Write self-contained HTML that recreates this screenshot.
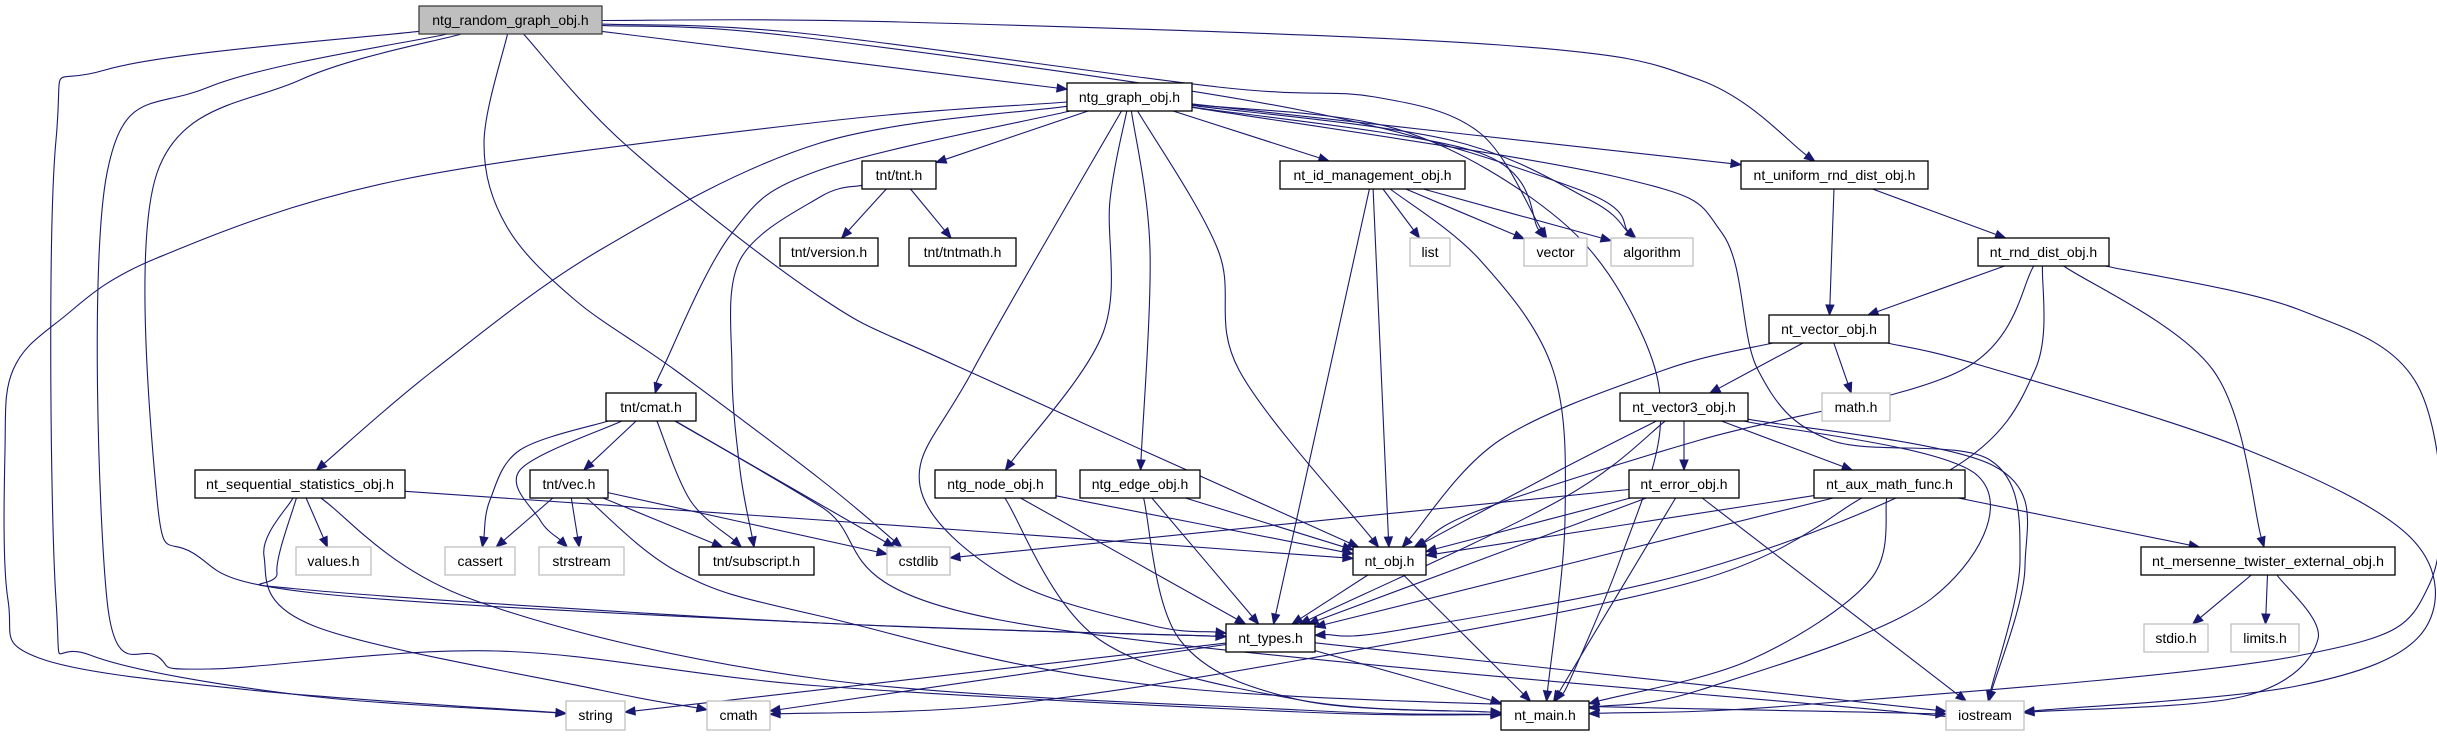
<!DOCTYPE html>
<html><head><meta charset="utf-8">
<style>
html,body{margin:0;padding:0;background:#fff;}
svg{display:block;}
text{font-family:"Liberation Sans",sans-serif;font-size:14px;fill:#000;}
</style></head>
<body>
<svg id="g" width="2437" height="736" viewBox="0 0 2437 736" xmlns="http://www.w3.org/2000/svg">
<rect width="2437" height="736" fill="#ffffff"/>
<g id="edges"></g>
<g id="nodes">
<rect x="419" y="6" width="183" height="28" fill="#bfbfbf" stroke="#404040" stroke-width="1.3"/><text x="510.5" y="25" text-anchor="middle">ntg_random_graph_obj.h</text>
<rect x="1067" y="83" width="125" height="28" fill="#fff" stroke="#000" stroke-width="1.3"/><text x="1129.5" y="102" text-anchor="middle">ntg_graph_obj.h</text>
<rect x="862" y="161" width="74" height="28" fill="#fff" stroke="#000" stroke-width="1.3"/><text x="899" y="180" text-anchor="middle">tnt/tnt.h</text>
<rect x="780" y="238" width="98" height="28" fill="#fff" stroke="#000" stroke-width="1.3"/><text x="829" y="257" text-anchor="middle">tnt/version.h</text>
<rect x="909" y="238" width="107" height="28" fill="#fff" stroke="#000" stroke-width="1.3"/><text x="962.5" y="257" text-anchor="middle">tnt/tntmath.h</text>
<rect x="1280" y="161" width="185" height="28" fill="#fff" stroke="#000" stroke-width="1.3"/><text x="1372.5" y="180" text-anchor="middle">nt_id_management_obj.h</text>
<rect x="1410" y="238" width="40" height="28" fill="#fff" stroke="#bfbfbf" stroke-width="1.3"/><text x="1430" y="257" text-anchor="middle">list</text>
<rect x="1524" y="238" width="63" height="28" fill="#fff" stroke="#bfbfbf" stroke-width="1.3"/><text x="1555.5" y="257" text-anchor="middle">vector</text>
<rect x="1611" y="238" width="82" height="28" fill="#fff" stroke="#bfbfbf" stroke-width="1.3"/><text x="1652" y="257" text-anchor="middle">algorithm</text>
<rect x="1741" y="161" width="187" height="28" fill="#fff" stroke="#000" stroke-width="1.3"/><text x="1834.5" y="180" text-anchor="middle">nt_uniform_rnd_dist_obj.h</text>
<rect x="1978" y="238" width="131" height="28" fill="#fff" stroke="#000" stroke-width="1.3"/><text x="2043.5" y="257" text-anchor="middle">nt_rnd_dist_obj.h</text>
<rect x="1769" y="315" width="120" height="28" fill="#fff" stroke="#000" stroke-width="1.3"/><text x="1829" y="334" text-anchor="middle">nt_vector_obj.h</text>
<rect x="606" y="393" width="90" height="28" fill="#fff" stroke="#000" stroke-width="1.3"/><text x="651" y="412" text-anchor="middle">tnt/cmat.h</text>
<rect x="1620" y="393" width="128" height="28" fill="#fff" stroke="#000" stroke-width="1.3"/><text x="1684" y="412" text-anchor="middle">nt_vector3_obj.h</text>
<rect x="1822" y="393" width="68" height="28" fill="#fff" stroke="#bfbfbf" stroke-width="1.3"/><text x="1856" y="412" text-anchor="middle">math.h</text>
<rect x="195" y="470" width="210" height="28" fill="#fff" stroke="#000" stroke-width="1.3"/><text x="300" y="489" text-anchor="middle" textLength="188" lengthAdjust="spacingAndGlyphs">nt_sequential_statistics_obj.h</text>
<rect x="530" y="470" width="78" height="28" fill="#fff" stroke="#000" stroke-width="1.3"/><text x="569" y="489" text-anchor="middle">tnt/vec.h</text>
<rect x="935" y="470" width="121" height="28" fill="#fff" stroke="#000" stroke-width="1.3"/><text x="995.5" y="489" text-anchor="middle">ntg_node_obj.h</text>
<rect x="1080" y="470" width="120" height="28" fill="#fff" stroke="#000" stroke-width="1.3"/><text x="1140" y="489" text-anchor="middle">ntg_edge_obj.h</text>
<rect x="1629" y="470" width="110" height="28" fill="#fff" stroke="#000" stroke-width="1.3"/><text x="1684" y="489" text-anchor="middle">nt_error_obj.h</text>
<rect x="1814" y="470" width="151" height="28" fill="#fff" stroke="#000" stroke-width="1.3"/><text x="1889.5" y="489" text-anchor="middle">nt_aux_math_func.h</text>
<rect x="296" y="547" width="75" height="28" fill="#fff" stroke="#bfbfbf" stroke-width="1.3"/><text x="333.5" y="566" text-anchor="middle">values.h</text>
<rect x="445" y="547" width="70" height="28" fill="#fff" stroke="#bfbfbf" stroke-width="1.3"/><text x="480" y="566" text-anchor="middle">cassert</text>
<rect x="539" y="547" width="85" height="28" fill="#fff" stroke="#bfbfbf" stroke-width="1.3"/><text x="581.5" y="566" text-anchor="middle">strstream</text>
<rect x="699" y="547" width="115" height="28" fill="#fff" stroke="#000" stroke-width="1.3"/><text x="756.5" y="566" text-anchor="middle">tnt/subscript.h</text>
<rect x="887" y="547" width="63" height="28" fill="#fff" stroke="#bfbfbf" stroke-width="1.3"/><text x="918.5" y="566" text-anchor="middle">cstdlib</text>
<rect x="1353" y="547" width="73" height="28" fill="#fff" stroke="#000" stroke-width="1.3"/><text x="1389.5" y="566" text-anchor="middle">nt_obj.h</text>
<rect x="2141" y="547" width="254" height="28" fill="#fff" stroke="#000" stroke-width="1.3"/><text x="2268" y="566" text-anchor="middle" textLength="232" lengthAdjust="spacingAndGlyphs">nt_mersenne_twister_external_obj.h</text>
<rect x="1226" y="624" width="89" height="28" fill="#fff" stroke="#000" stroke-width="1.3"/><text x="1270.5" y="643" text-anchor="middle">nt_types.h</text>
<rect x="2144" y="624" width="64" height="28" fill="#fff" stroke="#bfbfbf" stroke-width="1.3"/><text x="2176" y="643" text-anchor="middle">stdio.h</text>
<rect x="2231" y="624" width="68" height="28" fill="#fff" stroke="#bfbfbf" stroke-width="1.3"/><text x="2265" y="643" text-anchor="middle">limits.h</text>
<rect x="566" y="701" width="59" height="29" fill="#fff" stroke="#bfbfbf" stroke-width="1.3"/><text x="595.5" y="720" text-anchor="middle">string</text>
<rect x="707" y="701" width="63" height="29" fill="#fff" stroke="#bfbfbf" stroke-width="1.3"/><text x="738.5" y="720" text-anchor="middle">cmath</text>
<rect x="1501" y="701" width="88" height="29" fill="#fff" stroke="#000" stroke-width="1.3"/><text x="1545" y="720" text-anchor="middle">nt_main.h</text>
<rect x="1946" y="701" width="78" height="29" fill="#fff" stroke="#bfbfbf" stroke-width="1.3"/><text x="1985" y="720" text-anchor="middle">iostream</text>
</g>
</svg>
<script>
var N={
R:[419,6,183,28],G:[1067,83,125,28],TNT:[862,161,74,28],VER:[780,238,98,28],TM:[909,238,107,28],
ID:[1280,161,185,28],LIST:[1410,238,40,28],VEC:[1524,238,63,28],ALG:[1611,238,82,28],U:[1741,161,187,28],
RD:[1978,238,131,28],V:[1769,315,120,28],CM:[606,393,90,28],V3:[1620,393,128,28],MATH:[1822,393,68,28],
SS:[195,470,210,28],TV:[530,470,78,28],NODE:[935,470,121,28],EDGE:[1080,470,120,28],ERR:[1629,470,110,28],
AUX:[1814,470,151,28],VAL:[296,547,75,28],CAS:[445,547,70,28],STR:[539,547,85,28],SUB:[699,547,115,28],
CSTD:[887,547,63,28],OBJ:[1353,547,73,28],MT:[2141,547,254,28],TYP:[1226,624,89,28],STDIO:[2144,624,64,28],
LIM:[2231,624,68,28],STRING:[566,701,59,29],CMATH:[707,701,63,29],MAIN:[1501,701,88,29],IOS:[1946,701,78,29]};
var E=[
['R','G',[]],
['R','U',[[900,22],[1500,45],[1700,80]]],
['R','VEC',[[800,33],[1218,87],[1375,97],[1480,133]]],
['R','ALG',[[800,37],[1300,110],[1580,190]]],
['R','OBJ',[[628,147],[820,297],[957,366]]],
['R','CSTD',[[484,143],[507,227],[575,300],[675,370],[820,479]]],
['R','STRING',[[105,70],[56,140],[56,600],[90,655],[300,695]]],
['R','MAIN',[[209,87],[107,173],[107,600],[157,656],[209,669],[497,651],[820,686],[1300,712]]],
['R','TYP',[[300,80],[157,173],[157,499],[193,553],[314,593],[820,623]]],
['G','STRING',[[820,122],[400,180],[157,258],[60,320],[13,370],[5,450],[8,600],[39,658],[250,690]]],
['G','TNT',[]],['G','ID',[]],['G','U',[]],
['G','VEC',[[1480,153]]],
['G','ALG',[[1450,140],[1590,200]]],
['G','CM',[[820,170],[732,233],[662,370]]],
['G','SS',[[820,143],[600,250],[434,370]]],
['TNT','SUB',[[820,197],[740,260],[732,370],[740,470]]],
['TNT','VER',[]],['TNT','TM',[]],
['G','NODE',[[1110,200],[1103,333]]],
['G','EDGE',[[1150,250]]],
['G','TYP',[[973,370],[920,486],[1009,579],[1150,625]]],
['G','OBJ',[[1218,250],[1239,370]]],
['G','MAIN',[[1400,130],[1560,220],[1640,330],[1660,430],[1620,560],[1570,680]]],
['G','IOS',[[1617,177],[1722,233],[1758,370],[1830,440],[1990,460],[2020,560]]],
['ID','LIST',[]],['ID','VEC',[]],['ID','ALG',[]],
['ID','OBJ',[]],['ID','TYP',[]],
['ID','MAIN',[[1480,260],[1553,370],[1565,520]]],
['U','V',[]],['U','RD',[]],
['RD','V',[]],
['RD','OBJ',[[1962,370],[1700,440],[1480,510]]],
['RD','TYP',[[2035,370],[1950,470],[1700,570],[1400,630]]],
['RD','MT',[[2213,370]]],
['RD','MAIN',[[2300,310],[2420,390],[2430,583],[2297,656],[1800,705]]],
['V','IOS',[[1983,366],[2245,449],[2412,539],[2422,633],[2297,686]]],
['MT','IOS',[[2318,639],[2245,696]]],
['MT','STDIO',[]],['MT','LIM',[]],
['V','V3',[]],['V','MATH',[]],
['V','OBJ',[[1664,370],[1500,440]]],
['V3','ERR',[]],['V3','AUX',[]],['V3','OBJ',[[1560,470]]],['V3','TYP',[[1560,500]]],
['V3','IOS',[[1994,466],[2025,566]]],
['V3','MAIN',[[1978,476],[1931,599],[1700,690]]],
['ERR','OBJ',[]],['ERR','TYP',[]],['ERR','MAIN',[]],['ERR','IOS',[]],['ERR','CSTD',[]],
['AUX','MT',[]],['AUX','OBJ',[]],['AUX','TYP',[]],
['AUX','MAIN',[[1870,580],[1750,660]]],
['AUX','CMATH',[[1700,580],[1300,660],[1000,705]]],
['CM','TV',[]],
['CM','CAS',[[520,450],[490,500]]],
['CM','STR',[[520,470],[540,520]]],
['CM','SUB',[[690,500]]],
['CM','CSTD',[]],
['CM','IOS',[[820,506],[1000,620],[1900,712]]],
['TV','CAS',[]],['TV','STR',[]],['TV','SUB',[]],['TV','CSTD',[]],
['TV','IOS',[[680,573],[820,616],[1200,690]]],
['SS','VAL',[]],
['SS','OBJ',[[820,520]]],
['SS','TYP',[[277,573],[309,590],[820,623]]],
['SS','CMATH',[[264,556],[314,626],[600,690]]],
['SS','MAIN',[[471,599],[820,679],[1300,710]]],
['NODE','OBJ',[]],['NODE','TYP',[]],['NODE','MAIN',[[1100,640],[1300,700]]],
['EDGE','OBJ',[]],['EDGE','TYP',[]],['EDGE','MAIN',[[1180,640],[1300,700]]],
['OBJ','TYP',[]],['OBJ','MAIN',[]],
['TYP','STRING',[]],['TYP','CMATH',[]],['TYP','MAIN',[]],['TYP','IOS',[]]
];
function ctr(b){return [b[0]+b[2]/2,b[1]+b[3]/2];}
function clip(b,to){var c=ctr(b),dx=to[0]-c[0],dy=to[1]-c[1];
 var hw=b[2]/2,hh=b[3]/2;var t=Math.min(dx?hw/Math.abs(dx):1e9,dy?hh/Math.abs(dy):1e9);
 if(t>1)t=1;return [c[0]+dx*t,c[1]+dy*t];}
var out='';
E.forEach(function(e){
 var s=N[e[0]],t=N[e[1]],w=e[2]||[];
 var p1=clip(s,w.length?w[0]:ctr(t));
 var pe=clip(t,w.length?w[w.length-1]:ctr(s));
 var P=[p1].concat(w).concat([pe]);
 var pv=P[P.length-2];var dx=pe[0]-pv[0],dy=pe[1]-pv[1],L=Math.sqrt(dx*dx+dy*dy)||1;dx/=L;dy/=L;
 var base=[pe[0]-dx*10,pe[1]-dy*10];
 P[P.length-1]=base;
 var d='M'+P[0][0].toFixed(1)+','+P[0][1].toFixed(1);
 for(var i=0;i<P.length-1;i++){
  var a=P[i-1]||P[i],b=P[i],c=P[i+1],dd=P[i+2]||P[i+1];
  var c1=[b[0]+(c[0]-a[0])/6,b[1]+(c[1]-a[1])/6],c2=[c[0]-(dd[0]-b[0])/6,c[1]-(dd[1]-b[1])/6];
  d+=' C'+c1[0].toFixed(1)+','+c1[1].toFixed(1)+' '+c2[0].toFixed(1)+','+c2[1].toFixed(1)+' '+c[0].toFixed(1)+','+c[1].toFixed(1);
 }
 out+='<path d="'+d+'" fill="none" stroke="#191970" stroke-width="1.1"/>';
 var nx=-dy,ny=dx;
 out+='<polygon points="'+pe[0].toFixed(1)+','+pe[1].toFixed(1)+' '+(base[0]+nx*4).toFixed(1)+','+(base[1]+ny*4).toFixed(1)+' '+(base[0]-nx*4).toFixed(1)+','+(base[1]-ny*4).toFixed(1)+'" fill="#191970" stroke="#191970"/>';
});
document.getElementById('edges').innerHTML=out;
</script>
</body></html>
